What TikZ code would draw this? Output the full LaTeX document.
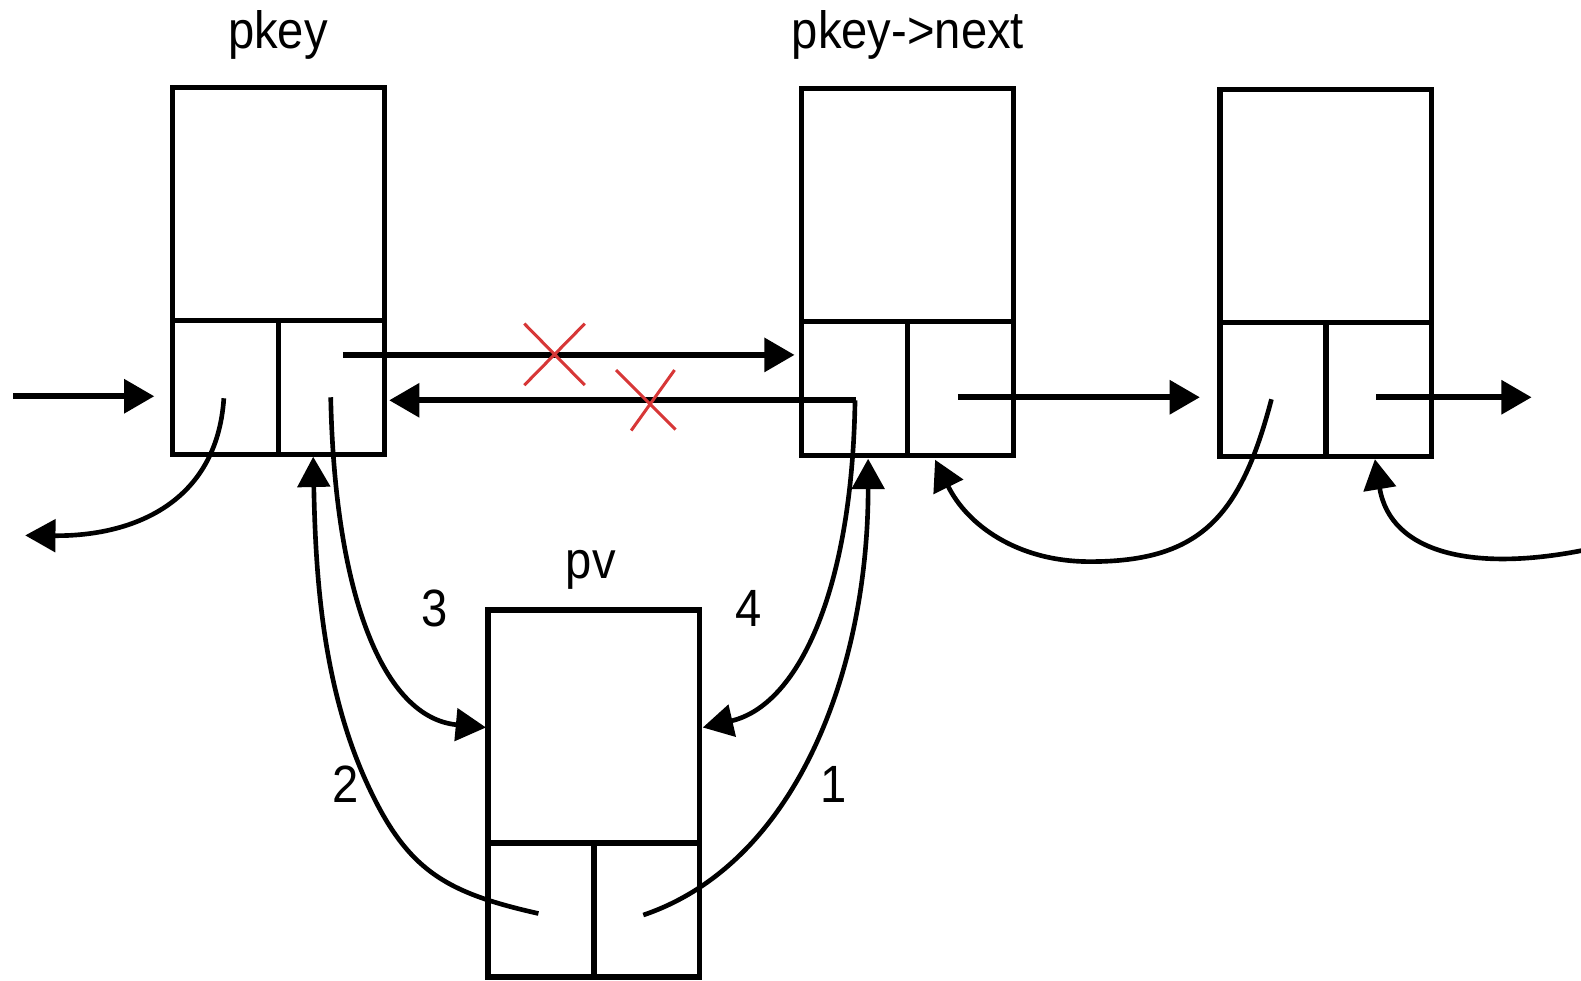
\documentclass[tikz,border=0pt]{standalone}
\usepackage{fontspec}
\newfontfamily\lab[FakeStretch=0.9]{Liberation Sans}
\usetikzlibrary{arrows.meta}
\definecolor{crossred}{RGB}{215,55,55}
\begin{document}
\begin{tikzpicture}[x=0.5pt,y=-0.5pt,
  part/.style={draw, line width=2.6pt, inner sep=0pt, outer sep=0pt},
  dpart/.style={part, minimum width=105pt, minimum height=115.5pt},
  cpart/.style={part, minimum width=52.5pt, minimum height=66.5pt},
  lbl/.style={font={\lab\fontsize{26}{30}\selectfont}, inner sep=0pt, anchor=base},
  link/.style={line width=2.8pt, -{Triangle[length=15pt,width=16.5pt]}},
  curv/.style={line width=2.3pt, -{Triangle[length=15pt,width=16pt]}},
  cross/.style={draw=crossred, line width=1.5pt}]
\useasboundingbox (0,0) rectangle (1568,972);

% list nodes: data part + two pointer cells
% pkey (left 171, top 87)
\node[dpart] (A)  at (276,202.5) {};
\node[cpart] (Al) at (223.5,384.5) {};
\node[cpart] (Ar) at (328.5,384.5) {};
% pkey->next (left 795, top 88)
\node[dpart] (B)  at (900,203.5) {};
\node[cpart] (Bl) at (847.5,385.5) {};
\node[cpart] (Br) at (952.5,385.5) {};
% third node (left 1210, top 89)
\node[dpart] (C)  at (1315,204.5) {};
\node[cpart] (Cl) at (1262.5,386.5) {};
\node[cpart] (Cr) at (1367.5,386.5) {};
% pv (left 484, top 605)
\node[dpart] (D)  at (589,720.5) {};
\node[cpart] (Dl) at (536.5,902.5) {};
\node[cpart] (Dr) at (641.5,902.5) {};

% labels
\node[lbl] (lpkey) at (275.7,48.5) {pkey};
\node[lbl] (lnext) at (900.5,48.5) {pkey->next};
\node[lbl] (lpv)   at (586,574) {pv};
\node[lbl] (n3) at (431,621) {3};
\node[lbl] (n4) at (742,621) {4};
\node[lbl] (n2) at (343,796) {2};
\node[lbl] (n1) at (827,796) {1};

% free ends / start points inside cells
\coordinate (in0) at (13,393);
\coordinate (sAl) at (222,395);
\coordinate (sAr) at (328,394);
\coordinate (tAr) at (340,352);
\coordinate (sBl) at (848,397);
\coordinate (sBr) at (950,394);
\coordinate (sCl) at (1261,396);
\coordinate (sCr) at (1365,394);
\coordinate (eCr) at (1519,394);
\coordinate (sDl) at (534,906);
\coordinate (sDr) at (638,907.5);
\coordinate (out0) at (25,531);
\coordinate (in9) at (1574,545);

% straight links
\draw[link, shorten >=9pt] (in0) -- (in0 -| Al.west);
\draw[link, shorten >=3.5pt] (tAr) -- (tAr -| Bl.west);
\draw[link, shorten >=2.5pt] ([xshift=0.6pt]sBl) -- (sBl -| Ar.east);
\draw[link, shorten >=10pt] (sBr) -- (sBr -| Cl.west);
\draw[link] (sCr) -- (eCr);

% curved links
\draw[curv] (sAl) .. controls (215,500) and (130,532) .. (out0);
\draw[curv] (sAr) .. controls (332,590) and (380,712) .. ([xshift=-1pt,yshift=-0.5pt]D.west);
\draw[curv] (sBl) .. controls (845,590) and (790,700) .. ([xshift=1.5pt,yshift=-0.5pt]D.east);
\draw[curv] (sDl) .. controls (441.4,885.1) and (403.6,863.4) .. (364,777)
                  .. controls (318.1,677) and (312.9,563) .. ([xshift=17.3pt,yshift=-1pt]Ar.south west);
\draw[curv] (sDr) .. controls (789.4,856.3) and (861,665) .. ([xshift=-19.5pt,yshift=-1.5pt]Bl.south east);
\draw[curv] (sCl) .. controls (1230.5,512) and (1191,557) .. (1081,557)
                  .. controls (1009,557) and (959.2,520.7) .. ([xshift=13.7pt,yshift=-2pt]Br.south west);
\draw[curv] (in9) .. controls (1462,568) and (1379,549) .. ([xshift=24.3pt,yshift=-1.2pt]Cr.south west);

% red crosses on the removed links
\draw[cross] (520,321) -- (580,382) (580,321) -- (520,382);
\draw[cross] (611,367) -- (670,426) (669,367) -- (626,427);
\end{tikzpicture}
\end{document}
